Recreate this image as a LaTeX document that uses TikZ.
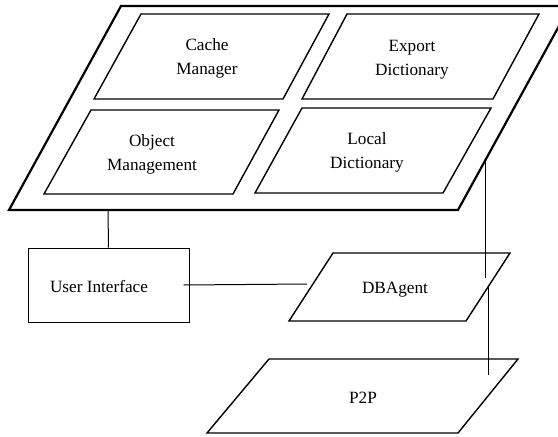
\documentclass[tikz,border=0pt]{standalone}
\usepackage{fontspec}
\setmainfont{Liberation Serif}
\usetikzlibrary{positioning,calc}

\begin{document}
\begin{tikzpicture}[x=1pt,y=-1pt,
                frame/.style={draw, line width=2.2pt},
                panel/.style={draw, line width=1.4pt},
                wire/.style={draw, line width=1pt},
                every node/.style={font=\fontsize{17.2}{24}\selectfont, align=center, inner sep=0pt},]
            \clip (0,0) rectangle (558,437);
            % outer platform
            \path[frame] (121,6) -- (570,6) -- (458,210) -- (9,210) -- cycle;
            % inner modules
            \path[panel] (141,14) -- (329,14) -- (283,99) -- (94,99) -- cycle;
            \path[panel] (347,14) -- (539,14) -- (493,99) -- (302,99) -- cycle;
            \path[panel] (91,110) -- (279,110) -- (233,194) -- (44,194) -- cycle;
            \path[panel] (302,108) -- (491,108) -- (443,193) -- (255,193) -- cycle;
            \node (cache) at (207,58) {Cache\\Manager};
            \node (export) at (412,60) {Export\\Dictionary};
            \node (object) at (152,154) {Object\\Management};
            \node (local) at (367,152) {Local\\Dictionary};
            % lower layer
            \node[draw, line width=1pt, minimum width=161pt, minimum height=74pt] (ui) at (108.5,285) {};
            \node (uilabel) at (99,287) {User Interface};
            \path[panel] (333,253) -- (510,253) -- (466,321) -- (289,321) -- cycle;
            \node (dbagent) at (395,290) {DBAgent};
            \path[panel] (269,359) -- (518,359) -- (458,433) -- (207,433) -- cycle;
            \node (p2p) at (363,398) {P2P};
            % connectors
            \coordinate (platform south) at (108,210);
            \coordinate (dbagent west) at (307,284);
            \coordinate (platform east) at (485,160);
            \coordinate (dbagent in) at (485,278);
            \coordinate (dbagent east) at (488,287);
            \coordinate (p2p in) at (488,375);
            \path[wire] (ui.north) -- (platform south);
            \path[wire] ([xshift=-6pt]ui.east) -- (dbagent west);
            \path[wire] (platform east) -- (dbagent in);
            \path[wire] (dbagent east) -- (p2p in);
        \end{tikzpicture}
\end{document}
